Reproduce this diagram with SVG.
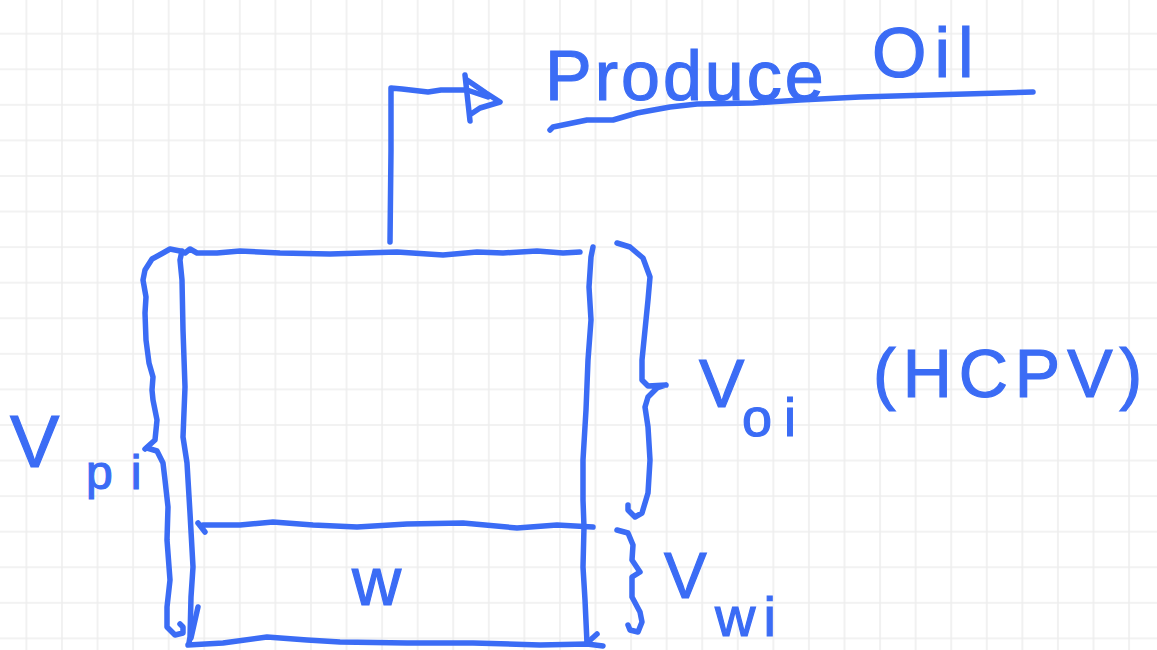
<svg xmlns="http://www.w3.org/2000/svg" width="1157" height="650" viewBox="0 0 1157 650">
<style>
.ink{fill:none;stroke:#3b6cf5;stroke-width:5.5;stroke-linecap:round;stroke-linejoin:round}
.lbl{fill:#3b6cf5;stroke:#3b6cf5;stroke-width:1.2;font-family:"Liberation Sans",Arial,sans-serif}
</style>
<defs>
<pattern id="grid" patternUnits="userSpaceOnUse" x="8.615" y="15.915" width="35.57" height="35.57">
<path d="M17.785 0V35.57M0 17.785H35.57" stroke="#eeeeee" stroke-width="1.6" fill="none"/>
</pattern>
</defs>
<rect width="1157" height="650" fill="#ffffff"/>
<rect width="1157" height="650" fill="url(#grid)"/>

<g id="reservoir">
<path class="ink" d="M580 252 L563 253 L537 251 L503 253 L477 252 L443 255 L397 252 L363 253 L330 254 L280 253 L240 251 L217 253 L197 253 L190 249 L185 253 L180 251 L170 249 L163 253 L152 259 L145 270 L143 280 L146 297 L145 313 L146 340 L149 363 L153 377 L152 390 L153 400 L157 420 L155 440 L145 449"/>
<path class="ink" d="M182 251 L180 260 L182 280 L183 330 L185 387 L183 437 L187 463 L190 513 L193 567 L191 597 L190 637 L189 643"/>
<path class="ink" d="M198 607 L191 638"/>
<path class="ink" d="M188 645 L223 643 L267 637 L307 640 L340 642 L407 643 L473 643 L540 645 L587 644 L603 646"/>
<path class="ink" d="M597 634 L587 643"/>
<path class="ink" d="M593 247 L591 257 L589 287 L591 320 L588 360 L586 410 L583 460 L583 500 L584 527 L583 567 L585 600 L587 643"/>
</g>

<g id="oil-water-contact">
<path class="ink" d="M198 523 L205 532 M203 525 L240 525 L273 522 L313 525 L357 527 L407 524 L463 523 L517 528 L557 525 L593 527"/>
<text class="lbl" x="352" y="605" font-size="68">w</text>
</g>

<g id="label-vpi">
<path class="ink" d="M147 448 L157 451 L163 463 L165 480 L168 507 L167 540 L170 580 L167 607 L167 627 L175 635 L183 633 L183 627 L180 624"/>
<text class="lbl" x="10" y="467" font-size="74">V<tspan x="86" y="489" font-size="48" letter-spacing="18">pi</tspan></text>
</g>

<g id="label-voi">
<path class="ink" d="M617 243 L630 247 L643 258 L650 277 L648 300 L645 330 L642 360 L642 380 L648 386 L666 385 M666 385 L657 388 L648 397 L645 407 L648 427 L650 460 L648 493 L642 513 L635 517 L628 510 L628 505"/>
<text class="lbl" x="699" y="407" font-size="68">V<tspan x="742" y="436" font-size="54" letter-spacing="12">oi</tspan></text>
<text class="lbl" x="873" y="397" font-size="68" letter-spacing="7">(HCPV)</text>
</g>

<g id="label-vwi">
<path class="ink" d="M617 530 L628 533 L633 545 L632 560 L640 572 M640 572 L632 577 L632 597 L640 612 L642 622 L638 632 L630 630 L628 625"/>
<text class="lbl" x="664" y="598" font-size="64">V<tspan x="715" y="636" font-size="56" letter-spacing="8">wi</tspan></text>
</g>

<g id="label-produce-oil">
<text class="lbl" x="545" y="100" font-size="70" letter-spacing="3">Produce<tspan x="872" y="77" letter-spacing="8">Oil</tspan></text>
<path class="ink" d="M550 130 L553 127 L587 120 L613 120 L637 113 L670 107 L697 104 L753 103 L800 100 L860 97 L1033 92"/>
</g>

<g id="connectors">
<path class="ink" d="M390 242 L391 150 L391 88 L402 89 L428 92 L441 90 L467 90 L488 97"/>
<path class="ink" d="M465 75 L470 121 M467 80 L486 93 L500 102 L480 108 L471 114"/>
</g>
</svg>
